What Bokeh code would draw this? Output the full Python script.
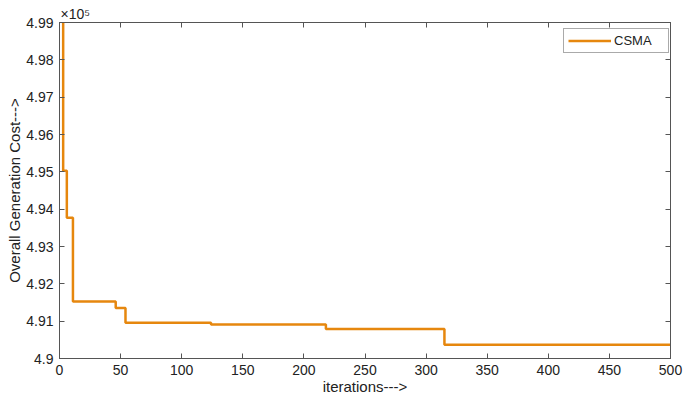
from bokeh.plotting import figure
from bokeh.models import (LinearAxis, FixedTicker, NumeralTickFormatter,
                          Legend, LegendItem, Range1d, ColumnDataSource, CustomJSTickFormatter)
from bokeh.embed import file_html
from bokeh.resources import INLINE

# Data (cost in units of 1e5)
iterations = [1, 3, 6, 11, 46, 54, 124, 218, 315, 500]
cost = [4.999, 4.9503, 4.9377, 4.9153, 4.9135, 4.9096, 4.9091, 4.9079, 4.9037, 4.9037]
x_ticks = [0, 50, 100, 150, 200, 250, 300, 350, 400, 450, 500]
y_ticks = [4.9, 4.91, 4.92, 4.93, 4.94, 4.95, 4.96, 4.97, 4.98, 4.99]

FONT = "Liberation Sans"
AX = "#555555"
TXT = "#222222"
ORANGE = "#E6870E"

p = figure(width=685, height=402, output_backend="svg", toolbar_location=None,
           x_range=Range1d(0, 500), y_range=Range1d(4.9, 4.99),
           min_border_left=59, min_border_top=22, min_border_right=15, min_border_bottom=44)

p.title.text = "×10⁵"
p.title.align = "left"
p.title.text_font = FONT
p.title.text_font_size = "14px"
p.title.text_font_style = "normal"
p.title.text_color = TXT
p.title.offset = 1
p.title.standoff = 1

p.background_fill_color = "white"
p.border_fill_color = "white"
p.grid.visible = False
p.outline_line_color = AX
p.outline_line_width = 1

src = ColumnDataSource(dict(x=iterations, y=cost))
r = p.step("x", "y", source=src, mode="after", line_color=ORANGE, line_width=2.5)

for ax in [p.xaxis[0], p.yaxis[0]]:
    ax.axis_line_color = AX
    ax.major_tick_line_color = AX
    ax.minor_tick_line_color = None
    ax.major_tick_in = 5
    ax.major_tick_out = 0
    ax.major_label_text_font = FONT
    ax.major_label_text_font_size = "14px"
    ax.major_label_text_color = TXT
    ax.axis_label_text_font = FONT
    ax.axis_label_text_font_size = "15px"
    ax.axis_label_text_font_style = "normal"
    ax.axis_label_text_color = TXT

p.xaxis[0].ticker = FixedTicker(ticks=x_ticks)
p.yaxis[0].ticker = FixedTicker(ticks=y_ticks)
p.yaxis[0].formatter = NumeralTickFormatter(format="0.0[0]")
p.xaxis[0].axis_label = "iterations--->"
p.yaxis[0].axis_label = "Overall Generation Cost--->"
p.xaxis[0].axis_label_standoff = 0
p.yaxis[0].axis_label_standoff = 0
p.xaxis[0].major_label_standoff = 6
p.yaxis[0].major_label_standoff = 6

blank = CustomJSTickFormatter(code="return '';")
top = LinearAxis(ticker=FixedTicker(ticks=x_ticks), formatter=blank,
                 axis_line_color=AX, major_tick_line_color=AX, minor_tick_line_color=None,
                 major_tick_in=5, major_tick_out=0, major_label_standoff=0)
right = LinearAxis(ticker=FixedTicker(ticks=y_ticks), formatter=blank,
                   axis_line_color=AX, major_tick_line_color=AX, minor_tick_line_color=None,
                   major_tick_in=5, major_tick_out=0, major_label_standoff=0)
p.add_layout(top, "above")
p.add_layout(right, "right")

legend = Legend(items=[LegendItem(label="CSMA", renderers=[r])], location=(504, 305),
                label_text_font=FONT, label_text_font_size="13px", label_text_color=TXT,
                border_line_color=AX, border_line_width=1, glyph_width=43, glyph_height=13,
                label_height=13, label_width=50, padding=4, spacing=0, margin=0,
                label_standoff=3)
p.add_layout(legend)

open("out.html", "w").write(file_html(p, INLINE))
